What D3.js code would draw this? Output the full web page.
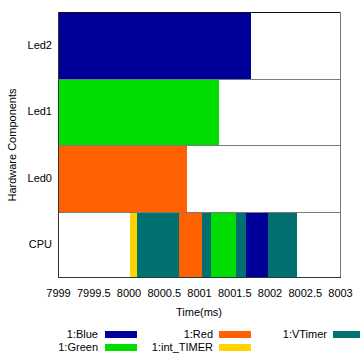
<!DOCTYPE html>
<html>
<head>
<meta charset="utf-8">
<script src="https://cdn.jsdelivr.net/npm/d3@7"></script>
<style>
html,body{margin:0;padding:0;background:#fff;}
svg{display:block;font-family:"Liberation Sans",Arial,sans-serif;}
</style>
</head>
<body>
<svg id="chart" width="360" height="360"></svg>
<script>
// ---- data ----
const lanes = ["Led2", "Led1", "Led0", "CPU"];
const barLane  = ["Led2", "Led1", "Led0", "CPU", "CPU", "CPU", "CPU", "CPU", "CPU", "CPU", "CPU", "CPU"];
const barTask  = ["1:Blue", "1:Green", "1:Red", "1:int_TIMER", "1:VTimer", "1:VTimer", "1:Red", "1:VTimer", "1:Green", "1:VTimer", "1:Blue", "1:VTimer"];
const barStart = [7999, 7999, 7999, 8000.02, 8000.125, 8000.27, 8000.72, 8001.04, 8001.17, 8001.53, 8001.66, 8001.98];
const barEnd   = [8001.74, 8001.28, 8000.83, 8000.125, 8000.27, 8000.72, 8001.04, 8001.17, 8001.53, 8001.66, 8001.98, 8002.39];
const xTicks = [7999, 7999.5, 8000, 8000.5, 8001, 8001.5, 8002, 8002.5, 8003];
const legendLabels = ["1:Blue", "1:Red", "1:VTimer", "1:Green", "1:int_TIMER"];
const taskNames  = ["1:Blue", "1:Green", "1:Red", "1:int_TIMER", "1:VTimer"];
const taskColors = ["#000099", "#00dd00", "#ff6000", "#ffd400", "#007070"];

// ---- layout ----
const svg = d3.select("#chart");
const L = 58, R = 340, T = 12, B = 278;
const x = d3.scaleLinear().domain([7999, 8003]).range([L, R]);
const y = d3.scaleBand().domain(lanes).range([T, B]).padding(0);
const color = d3.scaleOrdinal().domain(taskNames).range(taskColors);

const bars = barLane.map((l, i) => ({lane: l, task: barTask[i], s: barStart[i], e: barEnd[i]}));

svg.append("g").selectAll("rect").data(bars).join("rect")
  .attr("x", d => x(d.s))
  .attr("y", d => y(d.lane))
  .attr("width", d => x(d.e) - x(d.s))
  .attr("height", y.bandwidth())
  .attr("fill", d => color(d.task))
  .attr("shape-rendering", "crispEdges");

// lane separators
svg.append("g").selectAll("line").data(lanes.slice(1)).join("line")
  .attr("x1", L).attr("x2", R)
  .attr("y1", d => Math.round(y(d)) + 0.5).attr("y2", d => Math.round(y(d)) + 0.5)
  .attr("stroke", "#7a7a7a").attr("stroke-width", 1);

// frame
const f = svg.append("g").attr("fill", "none").attr("stroke-width", 1);
f.append("line").attr("x1", L).attr("x2", R).attr("y1", T + 0.5).attr("y2", T + 0.5).attr("stroke", "#111");
f.append("line").attr("x1", L + 0.5).attr("x2", L + 0.5).attr("y1", T).attr("y2", B).attr("stroke", "#333");
f.append("line").attr("x1", R + 0.5).attr("x2", R + 0.5).attr("y1", T).attr("y2", B).attr("stroke", "#777");
f.append("line").attr("x1", L).attr("x2", R + 1).attr("y1", B - 0.5).attr("y2", B - 0.5).attr("stroke", "#1e3c3c");

// x axis labels
const xAxis = d3.axisBottom(x).tickValues(xTicks).tickSize(0).tickPadding(11)
  .tickFormat(d => String(d));
const gx = svg.append("g").attr("transform", `translate(0,${B})`).call(xAxis);
gx.select(".domain").remove();
gx.selectAll("text").attr("font-size", 11).attr("fill", "#000").attr("font-family", "Liberation Sans, Arial, sans-serif");

// y axis labels
const yAxis = d3.axisLeft(y).tickSize(0).tickPadding(6);
const gy = svg.append("g").attr("transform", `translate(${L},0)`).call(yAxis);
gy.select(".domain").remove();
gy.selectAll("text").attr("font-size", 11).attr("fill", "#000").attr("font-family", "Liberation Sans, Arial, sans-serif");

// axis titles
svg.append("text").attr("x", 199).attr("y", 316).attr("text-anchor", "middle")
  .attr("font-size", 11).text("Time(ms)");
svg.append("text").attr("transform", "translate(16,145) rotate(-90)").attr("text-anchor", "middle")
  .attr("font-size", 11).text("Hardware Components");

// legend
const colTextX = [98, 213, 327];
const colSwX = [105, 219, 333];
const rowY = [334, 347];
const leg = svg.append("g").selectAll("g").data(legendLabels).join("g")
  .attr("transform", (d, i) => `translate(0,${rowY[Math.floor(i / 3)]})`);
leg.append("text")
  .attr("x", (d, i) => colTextX[i % 3]).attr("y", 4)
  .attr("text-anchor", "end").attr("font-size", 11).text(d => d);
leg.append("rect")
  .attr("x", (d, i) => colSwX[i % 3]).attr("y", -3)
  .attr("width", 32).attr("height", 7)
  .attr("fill", d => color(d));
</script>
</body>
</html>
